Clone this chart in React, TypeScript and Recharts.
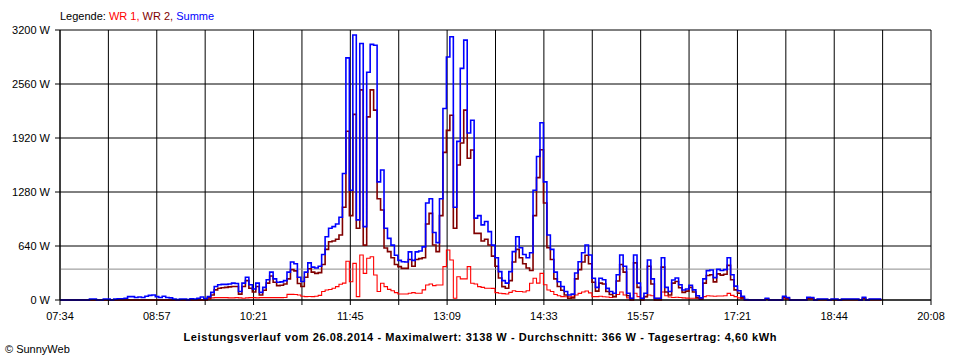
import React from "react";
import { LineChart, Line, XAxis, YAxis, CartesianGrid, ReferenceLine } from "recharts";

// minutes after 07:34, one sample every 3 minutes
const STEP_MIN = 3;
const SPAN_MIN = 754;
const TIME_LABELS = ["07:34", "08:57", "10:21", "11:45", "13:09", "14:33", "15:57", "17:21", "18:44", "20:08"];
const Y_TICKS = [0, 640, 1280, 1920, 2560, 3200];
const AVERAGE_W = 366;

const SUMME = [
  0, 0, 0, 0, 0, 0, 0, 0, 0, 10,
  10, 0, 0, 10, 10, 0, 10, 15, 15, 20,
  40, 40, 30, 35, 30, 45, 55, 60, 40, 30,
  45, 30, 25, 10, 5, 10, 10, 5, 15, 10,
  20, 35, 15, 40, 90, 160, 180, 185, 185, 190,
  200, 195, 100, 200, 270, 180, 130, 200, 90, 150,
  240, 330, 250, 210, 215, 230, 330, 450, 430, 270,
  220, 330, 440, 390, 380, 400, 540, 750, 850, 870,
  900, 980, 1500, 2870, 1300, 3140, 950, 3040, 870, 2700,
  3030, 3020, 1400, 1540, 850, 730, 650, 530, 470, 454,
  450, 570, 470, 570, 580, 630, 1150, 1200, 800, 680,
  1200, 2270, 2880, 3120, 1100, 1880, 2745, 3080, 1980, 2130,
  970, 1000, 890, 930, 810, 650, 500, 336, 230, 200,
  336, 573, 750, 620, 540, 500, 560, 1300, 1700, 2100,
  1400, 770, 600, 330, 217, 160, 100, 60, 70, 320,
  454, 560, 652, 533, 257, 150, 257, 240, 138, 100,
  80, 300, 533, 400, 80, 20, 533, 200, 20, 80,
  474, 250, 20, 20, 500, 150, 100, 237, 260, 180,
  118, 130, 175, 120, 50, 25, 250, 348, 355, 265,
  363, 350, 360, 500, 300, 165, 110, 45, 5, 0,
  0, 0, 0, 0, 20, 0, 0, 0, 0, 45,
  30, 0, 0, 0, 0, 0, 32, 30, 0, 10,
  10, 10, 0, 10, 10, 0, 10, 10, 10, 10,
  10, 0, 32, 0, 10, 10, 10, 10,
];

const WR1 = [
  0, 0, 0, 0, 0, 0, 0, 0, 0, 0,
  0, 0, 0, 0, 0, 0, 0, 0, 0, 0,
  0, 0, 0, 0, 0, 0, 0, 0, 0, 0,
  0, 0, 0, 0, 0, 0, 0, 0, 0, 0,
  0, 0, 0, 10, 25, 28, 28, 28, 28, 25,
  25, 28, 25, 20, 25, 28, 28, 25, 28, 28,
  28, 28, 28, 28, 28, 30, 67, 67, 65, 60,
  45, 40, 42, 40, 45, 55, 100, 118, 125, 140,
  158, 186, 200, 460, 217, 434, 40, 533, 316, 494,
  513, 296, 100, 198, 158, 126, 110, 87, 71, 71,
  71, 80, 87, 80, 80, 120, 178, 190, 170, 178,
  178, 395, 592, 474, 20, 276, 250, 250, 395, 198,
  190, 158, 150, 140, 140, 138, 87, 80, 75, 71,
  90, 110, 100, 100, 95, 110, 198, 257, 200, 316,
  180, 118, 100, 65, 50, 40, 38, 38, 45, 60,
  79, 95, 107, 85, 40, 40, 45, 38, 35, 30,
  40, 65, 95, 60, 25, 20, 80, 40, 20, 40,
  60, 50, 20, 20, 95, 50, 35, 30, 32, 30,
  25, 22, 20, 20, 20, 15, 40, 50, 47, 45,
  47, 47, 50, 79, 55, 40, 25, 15, 5, 0,
  0, 0, 0, 0, 10, 0, 0, 0, 0, 15,
  10, 0, 0, 0, 0, 0, 12, 10, 0, 5,
  5, 5, 0, 5, 5, 0, 5, 5, 5, 5,
  5, 0, 12, 0, 5, 5, 5, 5,
];

const WR2 = [
  0, 0, 0, 0, 0, 0, 0, 0, 0, 0,
  0, 0, 0, 0, 0, 0, 0, 0, 0, 0,
  0, 0, 0, 0, 0, 0, 0, 0, 0, 0,
  0, 0, 0, 0, 0, 0, 0, 0, 0, 0,
  0, 0, 0, 25, 60, 120, 140, 145, 150, 155,
  160, 160, 70, 160, 230, 140, 95, 160, 60, 115,
  200, 285, 210, 170, 175, 190, 250, 360, 345, 195,
  160, 270, 370, 330, 315, 325, 420, 600, 690, 700,
  720, 770, 1100, 2000, 1000, 2200, 850, 2490, 650, 2170,
  2490, 2250, 1200, 1066, 616, 573, 500, 420, 395, 375,
  375, 480, 400, 480, 490, 500, 900, 1027, 652, 573,
  1000, 1750, 2010, 2190, 850, 1600, 1860, 2250, 1680, 1777,
  790, 790, 700, 720, 652, 520, 400, 260, 158, 140,
  230, 450, 600, 500, 430, 380, 350, 1000, 1450, 1780,
  1150, 620, 480, 250, 160, 115, 60, 20, 25, 250,
  360, 450, 530, 430, 210, 105, 200, 190, 100, 65,
  40, 225, 420, 330, 50, 0, 440, 150, 0, 40,
  400, 190, 0, 0, 390, 95, 60, 200, 220, 145,
  90, 105, 150, 95, 28, 10, 200, 290, 300, 215,
  310, 295, 305, 410, 240, 120, 80, 25, 0, 0,
  0, 0, 0, 0, 10, 0, 0, 0, 0, 30,
  20, 0, 0, 0, 0, 0, 20, 20, 0, 5,
  5, 5, 0, 5, 5, 0, 5, 5, 5, 5,
  5, 0, 20, 0, 5, 5, 5, 5,
];

const data = SUMME.map((s, i) => ({ t: i * STEP_MIN, wr1: WR1[i], wr2: WR2[i], summe: s }));
const xTicks = Array.from({ length: 19 }, (_, k) => (k * SPAN_MIN) / 18);

const FONT = "'Liberation Sans', Arial, sans-serif";

export default function App() {
  return (
    <div style={{ position: "absolute", left: 0, top: 0, width: 960, height: 360, background: "#fff", fontFamily: FONT }}>
      <LineChart width={960} height={360} data={data} margin={{ top: 30, right: 29, bottom: 30, left: 0 }}>
        <CartesianGrid stroke="#000" strokeOpacity={1} />
        <XAxis
          dataKey="t"
          type="number"
          domain={[0, SPAN_MIN]}
          ticks={xTicks}
          interval={0}
          height={30}
          tickSize={5}
          tickMargin={7}
          axisLine={{ stroke: "#000" }}
          tickLine={{ stroke: "#000" }}
          tick={{ fill: "#000", fontSize: 11, fontFamily: FONT }}
          tickFormatter={(v: number, i: number) => (i % 2 === 0 ? TIME_LABELS[i / 2] : "")}
        />
        <YAxis
          type="number"
          domain={[0, 3200]}
          ticks={Y_TICKS}
          interval={0}
          width={60}
          tickSize={5}
          tickMargin={5}
          axisLine={{ stroke: "#000" }}
          tickLine={{ stroke: "#000" }}
          tick={{ fill: "#000", fontSize: 11, fontFamily: FONT }}
          tickFormatter={(v: number) => `${v} W`}
        />
        <ReferenceLine y={AVERAGE_W} stroke="#8c8c8c" strokeWidth={1} />
        <Line type="step" dataKey="wr1" stroke="#ff0000" strokeWidth={1.1} dot={false} isAnimationActive={false} />
        <Line type="step" dataKey="wr2" stroke="#800000" strokeWidth={1.6} dot={false} isAnimationActive={false} />
        <Line type="step" dataKey="summe" stroke="#0000ff" strokeWidth={1.6} dot={false} isAnimationActive={false} />
      </LineChart>
      <svg width={960} height={360} style={{ position: "absolute", left: 0, top: 0, pointerEvents: "none" }} fontFamily={FONT}>
        <text x={60} y={20} fontSize={11}>
          <tspan fill="#000">Legende: </tspan>
          <tspan fill="#ff0000">WR 1, </tspan>
          <tspan fill="#800000">WR 2, </tspan>
          <tspan fill="#0000ff">Summe</tspan>
        </text>
        <text x={480} y={341} fontSize={11} fontWeight="bold" textAnchor="middle" textLength={593} lengthAdjust="spacing">
          Leistungsverlauf vom 26.08.2014 - Maximalwert: 3138 W - Durchschnitt: 366 W - Tagesertrag: 4,60 kWh
        </text>
        <text x={5} y={353} fontSize={11}>© SunnyWeb</text>
      </svg>
    </div>
  );
}
